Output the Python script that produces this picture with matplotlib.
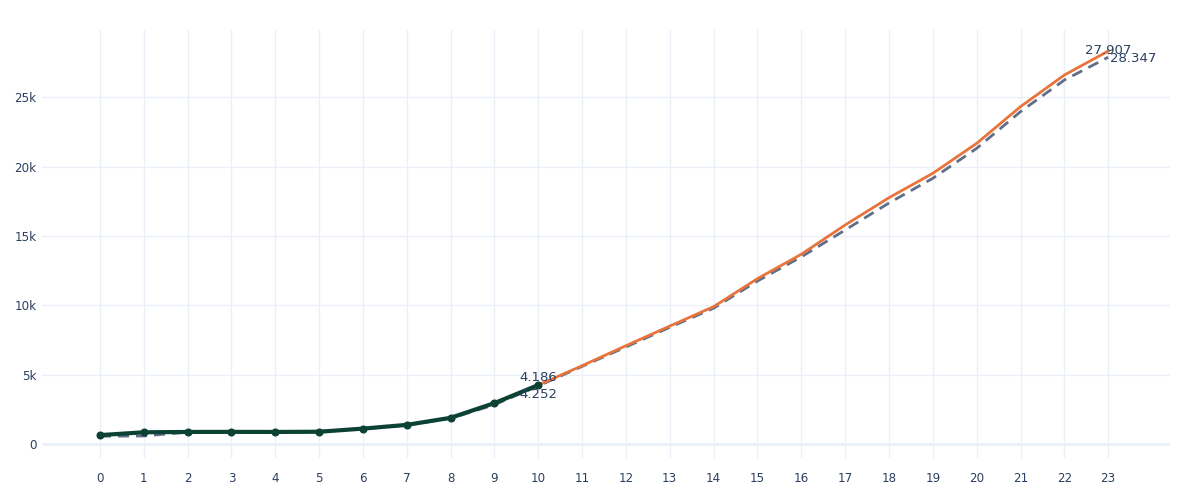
import matplotlib
matplotlib.use("Agg")
import matplotlib.pyplot as plt
from matplotlib.ticker import FuncFormatter

# actual values (steps 0..10)
actual_x = list(range(0, 11))
actual_y = [640, 845, 870, 875, 870, 885, 1110, 1380, 1890, 2950, 4252]

# model fit / prediction (steps 0..23)
pred_x = list(range(0, 24))
pred_y = [560, 580, 850, 870, 865, 880, 1090, 1360, 1850, 2830, 4186,
          5600, 7000, 8420, 9800, 11760, 13500, 15440, 17390, 19170,
          21330, 23980, 26260, 27907]

# forecast continuing from the last actual value
fc_x = list(range(10, 24))
fc_y = [4252, 5650, 7090, 8510, 9910, 11930, 13690, 15800, 17770, 19530,
        21690, 24340, 26620, 28347]

GRID = "#ebf0f8"
TXT = "#2a3f5f"

fig = plt.figure(figsize=(12, 5), dpi=100)
ax = fig.add_axes([0.035, 0.084, 0.94, 0.856])

ax.plot(pred_x, pred_y, color="#5f6f8a", lw=2, ls=(0, (4, 2.5)), zorder=3)
ax.plot(fc_x, fc_y, color="#e8743b", lw=2, zorder=4)
ax.plot(actual_x, actual_y, color="#0b4234", lw=3, marker="o", ms=4.8, zorder=5)

# end labels
ax.annotate(f"{pred_y[10]/1000:.3f}", (pred_x[10], pred_y[10]), xytext=(0, 1.5),
            textcoords="offset points", ha="center", va="bottom", fontsize=9.5, color=TXT, zorder=6)
ax.annotate(f"{actual_y[-1]/1000:.3f}", (actual_x[-1], actual_y[-1]), xytext=(0, -2),
            textcoords="offset points", ha="center", va="top", fontsize=9.5, color=TXT, zorder=6)
ax.annotate(f"{pred_y[-1]/1000:.3f}", (pred_x[-1], pred_y[-1]), xytext=(0, 0.5),
            textcoords="offset points", ha="center", va="bottom", fontsize=9.5, color=TXT, zorder=6)
ax.annotate(f"{fc_y[-1]/1000:.3f}", (fc_x[-1], fc_y[-1]), xytext=(1, -0.5),
            textcoords="offset points", ha="left", va="top", fontsize=9.5, color=TXT, zorder=6)

ax.set_xlim(-1.32, 24.41)
ax.set_ylim(-1010, 29870)
ax.set_xticks(pred_x)
ax.set_yticks([0, 5000, 10000, 15000, 20000, 25000])
ax.yaxis.set_major_formatter(FuncFormatter(lambda v, p: "0" if v == 0 else f"{int(v/1000)}k"))

ax.grid(True, color=GRID, lw=1)
ax.axhline(0, color=GRID, lw=2, zorder=1)
ax.set_axisbelow(True)
for s in ax.spines.values():
    s.set_visible(False)
ax.tick_params(length=0, labelsize=8.6, colors=TXT, pad=10)
ax.tick_params(axis="y", pad=4)

fig.savefig("out.png", dpi=100)
